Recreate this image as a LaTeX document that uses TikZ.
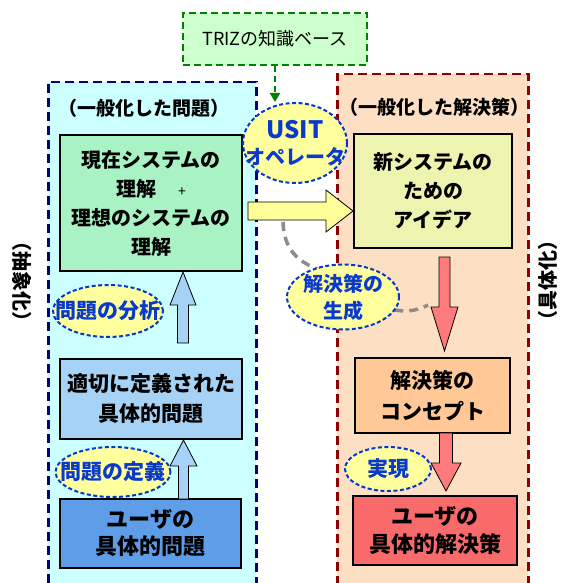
\documentclass[tikz,border=0pt]{standalone}
\usepackage{fontspec}
\setmainfont{Noto Sans CJK JP}
\usetikzlibrary{shapes.geometric,arrows.meta}
\definecolor{panelLfill}{HTML}{CCFFFF}
\definecolor{panelLdraw}{HTML}{000080}
\definecolor{panelRfill}{HTML}{FDE0C4}
\definecolor{panelRdraw}{HTML}{900000}
\definecolor{trizfill}{HTML}{CCFFCC}
\definecolor{trizdraw}{HTML}{008000}
\definecolor{curfill}{HTML}{A8F2C4}
\definecolor{ideafill}{HTML}{EEF4B0}
\definecolor{defpfill}{HTML}{A6D2F5}
\definecolor{userpfill}{HTML}{5E9DE8}
\definecolor{conceptfill}{HTML}{FFC896}
\definecolor{usersolfill}{HTML}{F96A6A}
\definecolor{ellfill}{HTML}{FFFF9E}
\definecolor{elldraw}{HTML}{0039CC}
\definecolor{elltext}{HTML}{0A3ACB}
\definecolor{arrblue}{HTML}{A6D2F5}
\definecolor{arrred}{HTML}{FF7B7B}
\definecolor{arryellow}{HTML}{FFFF99}
\definecolor{curvegrey}{HTML}{8C8C8C}
\begin{document}
\begin{tikzpicture}[x=1pt,y=-1pt,
  panel/.style={line width=2.5pt,dash pattern=on 9pt off 5pt,anchor=north west,inner sep=0pt},
  box/.style={draw=black,line width=1.6pt,inner sep=0pt,align=center,
    font=\fontsize{20}{29}\selectfont\bfseries},
  heading/.style={inner sep=0pt,font=\fontsize{19}{22}\selectfont\bfseries},
  oval/.style={ellipse,draw=elldraw,fill=ellfill,line width=2pt,
    dash pattern=on 4pt off 2.5pt,inner sep=0pt},
  ovaltext/.style={text=elltext,align=center,font=\fontsize{20}{27}\selectfont\bfseries},
  barrow/.style={draw=black,line width=0.8pt,line join=miter},
  sidetext/.style={inner sep=0pt,font=\fontsize{20}{22}\selectfont\bfseries}
]
\useasboundingbox (0,0) rectangle (565,583);
\fill[white] (0,0) rectangle (565,583);

% panels
\node[panel,draw=panelLdraw,fill=panelLfill,minimum width=208pt,minimum height=520pt] (lpanel) at (47,81) {};
\node[panel,draw=panelRdraw,fill=panelRfill,minimum width=191pt,minimum height=530pt] (rpanel) at (336,73) {};

% TRIZ knowledge base
\node[draw=trizdraw,fill=trizfill,line width=2.5pt,dash pattern=on 7pt off 4pt,
  minimum width=184pt,minimum height=52pt,inner sep=0pt,
  font=\fontsize{18}{22}\selectfont] (triz) at (275,39) {TRIZの知識ベース};

% headings
\node[heading] (hl) at (144,108) {（一般化した問題）};
\node[heading] (hr) at (434,107) {（一般化した解決策）};

% side texts
\node[sidetext,rotate=-90] (sl) at (22,281) {（抽象化）};
\node[sidetext,rotate=90] (sr) at (548,280) {（具体化）};

% boxes
\node[box,fill=curfill,minimum width=182pt,minimum height=136pt] (cur) at (151,203)
  {現在システムの\\理解\hspace{1.1em}{\mdseries\fontsize{14}{14}\selectfont +}\\理想のシステムの\\理解};
\node[box,fill=ideafill,minimum width=158pt,minimum height=114pt] (idea) at (433,191)
  {新システムの\\ための\\アイデア};
\node[box,fill=defpfill,minimum width=182pt,minimum height=80pt,
  font=\fontsize{21}{30}\selectfont\bfseries] (defp) at (151,399)
  {適切に定義された\\具体的問題};
\node[box,fill=userpfill,minimum width=181pt,minimum height=69pt,
  font=\fontsize{22}{27}\selectfont\bfseries] (userp) at (150.5,533.5)
  {ユーザの\\具体的問題};
\node[box,fill=conceptfill,minimum width=155pt,minimum height=75pt,
  font=\fontsize{21}{31}\selectfont\bfseries] (concept) at (432.5,395.5)
  {解決策の\\コンセプト};
\node[box,fill=usersolfill,minimum width=164pt,minimum height=69pt,
  font=\fontsize{22}{28}\selectfont\bfseries] (usersol) at (435,530.5)
  {ユーザの\\具体的解決策};

% grey dashed curve (behind the ellipse)
\coordinate (gc1) at (283,222);
\coordinate (gc2) at (428,305);
\draw[curvegrey,line width=3.5pt,dash pattern=on 9pt off 6pt]
  (gc1) .. controls (284,250) and (298,262) .. (320,270)
        .. controls (360,290) and (390,325) .. (gc2);

% block arrows
\draw[barrow,fill=arryellow] (248,202) -- (326,202) -- (326,190) -- (353,211)
  -- (326,232) -- (326,220) -- (248,220) -- cycle;
\draw[barrow,fill=arrblue] (177.5,343) -- (177.5,305) -- (170,305) -- (183,272)
  -- (196,305) -- (188.5,305) -- (188.5,343) -- cycle;
\draw[barrow,fill=arrblue] (178.5,499) -- (178.5,466) -- (170,466) -- (183.5,440)
  -- (197,466) -- (188.5,466) -- (188.5,499) -- cycle;
\draw[barrow,fill=arrred] (439,257) -- (450,257) -- (450,307) -- (458,307)
  -- (444.5,351) -- (431,307) -- (439,307) -- cycle;
\draw[barrow,fill=arrred] (439.5,433) -- (452.5,433) -- (452.5,463) -- (461,463)
  -- (446,491) -- (431,463) -- (439.5,463) -- cycle;

% ellipses
\node[oval,minimum width=104pt,minimum height=80pt,
  label={[ovaltext,font=\fontsize{20}{26}\selectfont\bfseries]center:{\fontsize{24}{26}\selectfont USIT}\\オペレータ}] (usit) at (295,143) {};
\node[oval,minimum width=112pt,minimum height=65pt,
  label={[ovaltext]center:解決策の\\生成}] (gen) at (343,297) {};
\node[oval,minimum width=110pt,minimum height=52pt,
  label={[ovaltext,font=\fontsize{21}{24}\selectfont\bfseries]center:問題の分析}] (anal) at (108,311) {};
\node[oval,minimum width=115pt,minimum height=50pt,
  label={[ovaltext,font=\fontsize{21}{24}\selectfont\bfseries]center:問題の定義}] (defn) at (113,472) {};
\node[oval,minimum width=86pt,minimum height=44pt,
  label={[ovaltext,font=\fontsize{21}{24}\selectfont\bfseries]center:実現}] (real) at (388,469) {};

% green dashed arrow
\draw[trizdraw,line width=2.5pt,dash pattern=on 6pt off 4pt,
  -{Triangle[length=9pt,width=10pt]}]
  (triz.south) -- (triz.south |- usit.north);
\end{tikzpicture}
\end{document}
